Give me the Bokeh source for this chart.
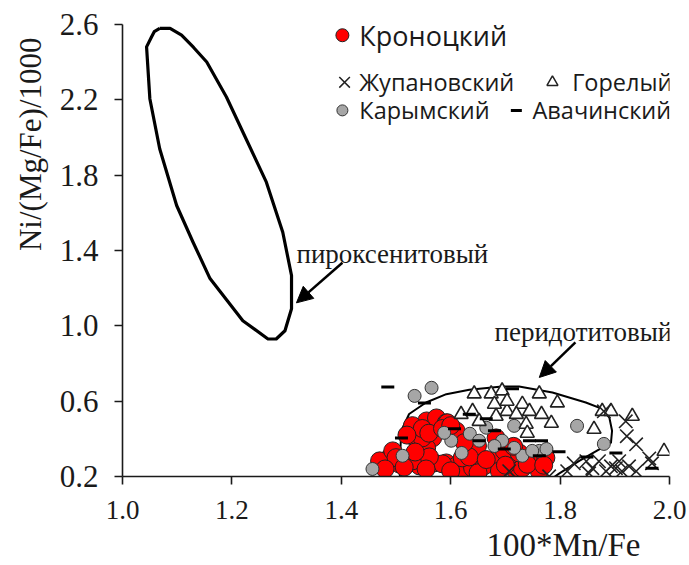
from bokeh.plotting import figure
from bokeh.models import Range1d, FixedTicker, PrintfTickFormatter, Title, Arrow, NormalHead
from bokeh.core.properties import value
from bokeh.embed import file_html
from bokeh.resources import INLINE

# ---------------- data ----------------
x_ticks = [1.0, 1.2, 1.4, 1.6, 1.8, 2.0]
y_ticks = [0.2, 0.6, 1.0, 1.4, 1.8, 2.2, 2.6]

x_title = "100*Mn/Fe"
y_title = "Ni/(Mg/Fe)/1000"

series_names = ["Кроноцкий", "Жупановский", "Горелый", "Карымский", "Авачинский"]
field_names = ["пироксенитовый", "перидотитовый"]

# pyroxenite field outline
pyrox_x = [1.068, 1.087, 1.108, 1.130, 1.154, 1.190, 1.220, 1.263, 1.293, 1.309, 1.309, 1.297,
           1.281, 1.266, 1.220, 1.160, 1.129, 1.099, 1.068, 1.050, 1.044, 1.053, 1.058, 1.068]
pyrox_y = [2.579, 2.579, 2.543, 2.478, 2.401, 2.215, 2.029, 1.763, 1.497, 1.267, 1.091, 0.974,
           0.930, 0.930, 1.027, 1.251, 1.444, 1.639, 1.940, 2.206, 2.481, 2.534, 2.562, 2.579]

# peridotite field outline
perid_x = [1.507, 1.508, 1.509, 1.512, 1.524, 1.555, 1.592, 1.634, 1.694, 1.725, 1.786, 1.847,
           1.877, 1.890, 1.895, 1.893, 1.835, 1.798, 1.780]
perid_y = [0.188, 0.337, 0.406, 0.458, 0.532, 0.593, 0.637, 0.661, 0.678, 0.678, 0.646, 0.593,
           0.559, 0.513, 0.443, 0.380, 0.283, 0.215, 0.178]

# Кроноцкий
kron_x = [1.543, 1.556, 1.574, 1.592, 1.610, 1.539, 1.567, 1.556, 1.488, 1.475, 1.506, 1.525,
          1.543, 1.570, 1.592, 1.610, 1.628, 1.640, 1.621, 1.683, 1.707, 1.720, 1.731, 1.756,
          1.774, 1.676, 1.585, 1.530, 1.470, 1.494, 1.548, 1.594, 1.649, 1.698, 1.725, 1.661,
          1.689, 1.634, 1.561, 1.762, 1.530, 1.548, 1.560, 1.585, 1.600, 1.520, 1.535, 1.500,
          1.515, 1.480, 1.555, 1.600, 1.650, 1.665, 1.700, 1.740, 1.770, 1.625, 1.715]
kron_y = [0.442, 0.495, 0.511, 0.485, 0.442, 0.389, 0.405, 0.352, 0.299, 0.267, 0.267, 0.272,
          0.256, 0.272, 0.272, 0.256, 0.229, 0.245, 0.299, 0.405, 0.283, 0.229, 0.245, 0.283,
          0.299, 0.283, 0.267, 0.283, 0.283, 0.336, 0.405, 0.485, 0.363, 0.336, 0.325, 0.256,
          0.229, 0.304, 0.304, 0.229, 0.470, 0.455, 0.430, 0.455, 0.470, 0.420, 0.330, 0.300,
          0.250, 0.240, 0.240, 0.230, 0.220, 0.290, 0.260, 0.265, 0.260, 0.380, 0.360]

# Горелый
gor_x = [1.643, 1.674, 1.694, 1.762, 1.795, 1.619, 1.640, 1.652, 1.680, 1.703, 1.731, 1.744,
         1.766, 1.784, 1.683, 1.738, 1.740, 1.862, 1.877, 1.893, 1.932, 1.990, 1.703, 1.720]
gor_y = [0.639, 0.639, 0.655, 0.639, 0.591, 0.530, 0.546, 0.493, 0.584, 0.546, 0.584, 0.546,
         0.530, 0.483, 0.520, 0.478, 0.430, 0.451, 0.546, 0.546, 0.520, 0.334, 0.600, 0.530]

# Карымский
kar_x = [1.534, 1.565, 1.457, 1.512, 1.601, 1.620, 1.635, 1.665, 1.694, 1.716, 1.731, 1.716,
         1.831, 1.880, 1.762, 1.749, 1.775, 1.680, 1.652, 1.588]
kar_y = [0.628, 0.671, 0.240, 0.310, 0.390, 0.325, 0.427, 0.459, 0.390, 0.469, 0.310, 0.352,
         0.469, 0.373, 0.336, 0.336, 0.346, 0.362, 0.390, 0.432]

# Жупановский
zhup_x = [1.880, 1.920, 1.939, 1.963, 1.968, 1.813, 1.780, 1.848, 1.859, 1.871, 1.884, 1.902,
          1.913, 1.926, 1.939, 1.893, 1.853, 1.825, 1.908, 1.707, 1.922]
zhup_y = [0.546, 0.493, 0.371, 0.296, 0.270, 0.228, 0.201, 0.281, 0.244, 0.281, 0.228, 0.244,
          0.228, 0.254, 0.228, 0.254, 0.217, 0.270, 0.281, 0.228, 0.414]

# Авачинский
ava_x = [1.485, 1.552, 1.713, 1.634, 1.510, 1.798, 1.849, 1.902, 1.968, 1.766, 1.665, 1.652,
         1.698, 1.744, 1.762, 1.607, 1.680]
ava_y = [0.675, 0.590, 0.666, 0.530, 0.404, 0.331, 0.304, 0.325, 0.244, 0.390, 0.506, 0.390,
         0.346, 0.390, 0.310, 0.453, 0.443]

# ---------------- figure ----------------
SERIF = "Liberation Serif"
SANS = "Open Sans"
INK = "#1a1a1a"

p = figure(frame_width=547, frame_height=452,
           x_range=Range1d(1.0, 2.0), y_range=Range1d(0.2, 2.6),
           output_backend="svg", toolbar_location=None,
           min_border_left=122, min_border_right=20, min_border_top=24, min_border_bottom=89)
p.background_fill_color = "white"
p.border_fill_color = "white"
p.outline_line_color = None
p.xgrid.visible = False
p.ygrid.visible = False

for ax in (p.xaxis[0], p.yaxis[0]):
    ax.axis_line_color = INK
    ax.axis_line_width = 1.6
    ax.major_tick_line_color = INK
    ax.major_tick_line_width = 1.6
    ax.major_tick_in = 0
    ax.major_tick_out = 8
    ax.minor_tick_line_color = None
    ax.major_label_text_font = SERIF
    ax.major_label_text_color = INK
    ax.formatter = PrintfTickFormatter(format="%.1f")

p.xaxis[0].ticker = FixedTicker(ticks=x_ticks)
p.yaxis[0].ticker = FixedTicker(ticks=y_ticks)
p.xaxis[0].major_label_text_font_size = "27px"
p.yaxis[0].major_label_text_font_size = "31px"
p.xaxis[0].major_label_standoff = 16
p.yaxis[0].major_label_standoff = 16

ytitle = Title(text=y_title, align="right", offset=13, standoff=18,
               text_font=SERIF, text_font_size="31px", text_font_style="normal", text_color=INK)
p.add_layout(ytitle, "left")
xtitle = Title(text=x_title, align="right", offset=29, standoff=7,
               text_font=SERIF, text_font_size="33px", text_font_style="normal", text_color=INK)
p.add_layout(xtitle, "below")

# fields
p.line(pyrox_x, pyrox_y, line_color="black", line_width=3.2, line_join="round")
p.line(perid_x, perid_y, line_color="black", line_width=2, line_join="round")

# points
p.scatter(kron_x, kron_y, marker="circle", size=18, fill_color="#ff0000",
          line_color="#222222", line_width=1)
p.scatter(kar_x, kar_y, marker="circle", size=13, fill_color="#a6a6a6",
          line_color="#333333", line_width=1)
p.scatter(gor_x, gor_y, marker="triangle", size=14, fill_color="white",
          line_color="#222222", line_width=1.6)
p.scatter(zhup_x, zhup_y, marker="x", size=19, line_color="#222222", line_width=1.6)
p.scatter(ava_x, ava_y, marker="dash", size=13, line_color="black", line_width=3)

# field labels and arrows
p.text([1.318], [1.382], text=[field_names[0]], text_font=value(SERIF), text_font_size="27px",
       text_align="left", text_baseline="alphabetic", text_color=INK)
p.text([1.680], [0.965], text=[field_names[1]], text_font=value(SERIF), text_font_size="27px",
       text_align="left", text_baseline="alphabetic", text_color=INK)
p.add_layout(Arrow(end=NormalHead(size=16, fill_color="black", line_color="black"),
                   x_start=1.402, y_start=1.335, x_end=1.318, y_end=1.122,
                   line_width=2.5, line_color="black"))
p.add_layout(Arrow(end=NormalHead(size=16, fill_color="black", line_color="black"),
                   x_start=1.828, y_start=0.912, x_end=1.762, y_end=0.726,
                   line_width=2.5, line_color="black"))

# legend (drawn manually)
p.scatter([1.402], [2.543], marker="circle", size=13, fill_color="#ff0000", line_color="#222222", line_width=1)
p.scatter([1.406], [2.293], marker="x", size=15, line_color="#222222", line_width=1.5)
p.scatter([1.786], [2.293], marker="triangle", size=11, fill_color="white", line_color="#222222", line_width=1.5)
p.scatter([1.402], [2.144], marker="circle", size=11, fill_color="#a6a6a6", line_color="#333333", line_width=1)
p.scatter([1.720], [2.144], marker="dash", size=11, line_color="black", line_width=3)

p.text([1.433], [2.543], text=[series_names[0]], text_font=value(SANS), text_font_size="27px",
       text_align="left", text_baseline="middle", text_color=INK)
p.text([1.433, 1.822, 1.433, 1.7495], [2.293, 2.293, 2.144, 2.144],
       text=[series_names[1], series_names[2], series_names[3], series_names[4]],
       text_font=value(SANS), text_font_size="23.5px",
       text_align="left", text_baseline="middle", text_color=INK)

open("out.html", "w").write(file_html(p, INLINE))
